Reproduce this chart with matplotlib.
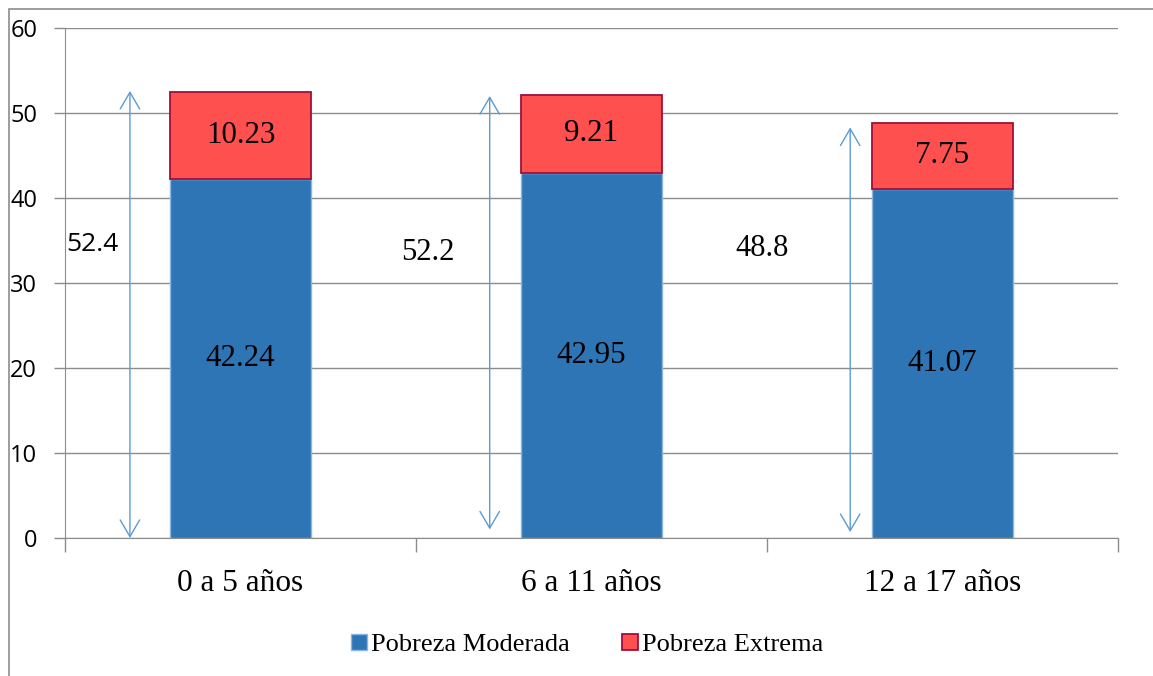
import matplotlib
matplotlib.use("Agg")
import matplotlib.pyplot as plt
from matplotlib.patches import Rectangle
import numpy as np

categories = ["0 a 5 años", "6 a 11 años", "12 a 17 años"]
moderada = [42.24, 42.95, 41.07]
extrema = [10.23, 9.21, 7.75]
totals = [52.4, 52.2, 48.8]
series_names = ["Pobreza Moderada", "Pobreza Extrema"]
yticks = [0, 10, 20, 30, 40, 50, 60]

W, H = 1153, 676
fig = plt.figure(figsize=(W / 100, H / 100), dpi=100)
ax = fig.add_axes([65 / W, 1 - 538 / H, (1118 - 65) / W, (538 - 28) / H])

serif = "Liberation Serif"
sans = "Open Sans"
blue = "#2E75B6"
red = "#FF5050"

x = np.arange(len(categories))
bw = 0.4
ax.bar(x, moderada, bw, color=blue, edgecolor="#8DB4E2", linewidth=1.0, zorder=3, label=series_names[0])
ax.bar(x, extrema, bw, bottom=moderada, color=red, edgecolor="#A0103A", linewidth=1.3, zorder=3, label=series_names[1])

for i in range(len(categories)):
    ax.text(x[i], moderada[i] / 2, f"{moderada[i]:.2f}", ha="center", va="center",
            fontsize=22.3, family=serif, zorder=4)
    ax.text(x[i], moderada[i] + extrema[i] / 2, f"{extrema[i]:.2f}", ha="center", va="center",
            fontsize=22.3, family=serif, zorder=4)

# double-headed arrows showing totals
arrow_dx = [-0.315, -0.29, -0.263]
arrow_lo = [0.0, 1.0, 0.7]
arrow_hi = [52.6, 52.0, 48.3]
for i in range(len(categories)):
    ax.annotate("", xy=(x[i] + arrow_dx[i], arrow_hi[i]), xytext=(x[i] + arrow_dx[i], arrow_lo[i]),
                arrowprops=dict(arrowstyle="<->,head_length=1.2,head_width=0.7", color="#5B9BD5",
                                lw=1.0, shrinkA=0, shrinkB=0), zorder=2)

# total labels
ax.text(x[0] - 0.497, 34.5, f"{totals[0]}", ha="left", va="center", fontsize=19, family=sans)
ax.text(x[1] - 0.543, 33.6, f"{totals[1]}", ha="left", va="center", fontsize=22, family=serif)
ax.text(x[2] - 0.591, 34.0, f"{totals[2]}", ha="left", va="center", fontsize=22, family=serif)

ax.set_xlim(-0.5, len(categories) - 0.5)
ax.set_ylim(0, 60)
ax.set_yticks(yticks)
ax.set_yticklabels([str(t) for t in yticks], family=sans, fontsize=17)
ax.yaxis.grid(True, color="#8C8C8C", linewidth=1.0, zorder=0)
ax.set_axisbelow(True)

ax.set_xticks(x)
ax.set_xticklabels(categories, family=serif, fontsize=22.5)
ax.tick_params(axis="x", length=0, pad=22)
ax.set_xticks(np.arange(len(categories) + 1) - 0.5, minor=True)
ax.tick_params(axis="x", which="minor", length=10, color="#8C8C8C", width=1.0)
ax.tick_params(axis="y", length=8, color="#8C8C8C", width=1.0, pad=12)

for s in ["top", "right"]:
    ax.spines[s].set_visible(False)
ax.spines["left"].set_color("#8C8C8C")
ax.spines["bottom"].set_color("#8C8C8C")

leg = fig.legend(loc="center", bbox_to_anchor=(587 / W, 1 - 645 / H), ncol=2, frameon=False,
                 prop={"family": serif, "size": 19}, handlelength=0.6, handleheight=0.6,
                 handletextpad=0.15, columnspacing=2.0)

# outer chart frame
fig.patches.append(Rectangle((8.5 / W, -0.1), 1.2, 1 - 8.5 / H + 0.1, transform=fig.transFigure,
                             fill=False, edgecolor="#8C8C8C", linewidth=1.2))

fig.savefig("out.png", dpi=100)
